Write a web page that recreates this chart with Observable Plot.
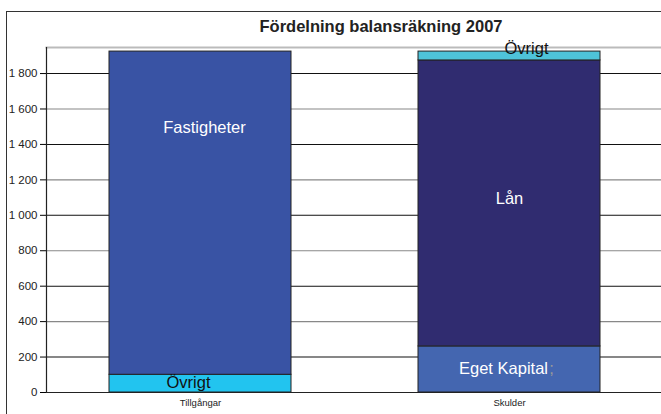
<!DOCTYPE html>
<html><head><meta charset="utf-8">
<script src="https://cdn.jsdelivr.net/npm/d3@7"></script>
<script src="https://cdn.jsdelivr.net/npm/@observablehq/plot@0.6"></script>
<style>
body{margin:0;background:#fff;font-family:"Liberation Sans",Arial,sans-serif;}
#wrap{position:relative;width:661px;height:414px;overflow:hidden;}
#frame{position:absolute;left:6px;top:11px;width:700px;height:500px;border-left:1.5px solid #333;border-top:1.5px solid #333;}
#title{position:absolute;left:0;width:762px;top:17px;text-align:center;font-weight:bold;font-size:16.5px;color:#222;}
#chart{position:absolute;left:0;top:0;}
</style></head>
<body>
<div id="wrap"><div id="frame"></div><div id="title">Fördelning balansräkning 2007</div><div id="chart"></div></div>
<script>
const categories = ["Tillgångar", "Tillgångar", "Skulder", "Skulder", "Skulder"];
const segments = ["Övrigt", "Fastigheter", "Eget Kapital", "Lån", "Övrigt"];
const values = [100, 1824, 260, 1614, 50];
const colors = ["#22c4ef", "#3953a4", "#4466b0", "#302c70", "#4ec3d9"];
const labelY = [56, 1495, 135, 1095, 1941];
const labelDx = [-12, 4, -6, 0, 17];
const labelColors = ["#111", "#fff", "#fff", "#fff", "#111"];
const yTicks = [0, 200, 400, 600, 800, 1000, 1200, 1400, 1600, 1800];
const xOrder = ["Tillgångar", "Skulder"];

const data = categories.map((c, i) => ({cat: c, seg: segments[i], value: values[i], color: colors[i],
  ly: labelY[i], dx: labelDx[i], lc: labelColors[i], label: segments[i]}));

const fmt = d3.formatLocale({decimal: ",", thousands: " ", grouping: [3], currency: ["", ""]}).format(",d");

const labelMarks = data.map(d => Plot.text([d], {x: "cat", y: "ly", text: "label", dx: d.dx, fill: d.lc, fontSize: 16.5}));
const semi = data.filter(d => d.seg === "Eget Kapital").map(d => Plot.text([d], {x: "cat", y: "ly", text: () => ";", dx: 42, fill: "#999", fontSize: 16.5}));

const chart = Plot.plot({
  width: 661, height: 414,
  marginLeft: 46, marginTop: 47, marginBottom: 22, marginRight: 0,
  style: {fontFamily: "'Liberation Sans', Arial, sans-serif", background: "transparent"},
  x: {domain: xOrder, range: [46, 664], paddingInner: 0.41, paddingOuter: 0.205, align: 0.5, label: null},
  y: {domain: [0, 1947], ticks: yTicks, tickFormat: fmt, label: null},
  marks: [
    Plot.ruleY(yTicks.filter(d => d > 0), {stroke: d => (d / 200) % 2 ? "#111" : "#888", strokeWidth: 1.1, strokeOpacity: 1}),
    Plot.frame({anchor: "top", stroke: "#bbb", strokeWidth: 2}),
    Plot.barY(data, {x: "cat", y: "value", fill: d => d.color, stroke: "#222", strokeWidth: 1}),
    ...labelMarks,
    ...semi,
    Plot.ruleY([0], {stroke: "#222", strokeWidth: 1.2}),
    Plot.frame({anchor: "left", stroke: "#222", strokeWidth: 1.2}),
    Plot.axisY({ticks: yTicks, tickFormat: fmt, tickSize: 6, tickPadding: 3, fontSize: 11.5, fill: "#222", label: null}),
    Plot.axisX({tickSize: 0, tickPadding: 7, fontSize: 9.5, fill: "#222", label: null})
  ]
});
document.getElementById("chart").appendChild(chart);
</script>
</body></html>
